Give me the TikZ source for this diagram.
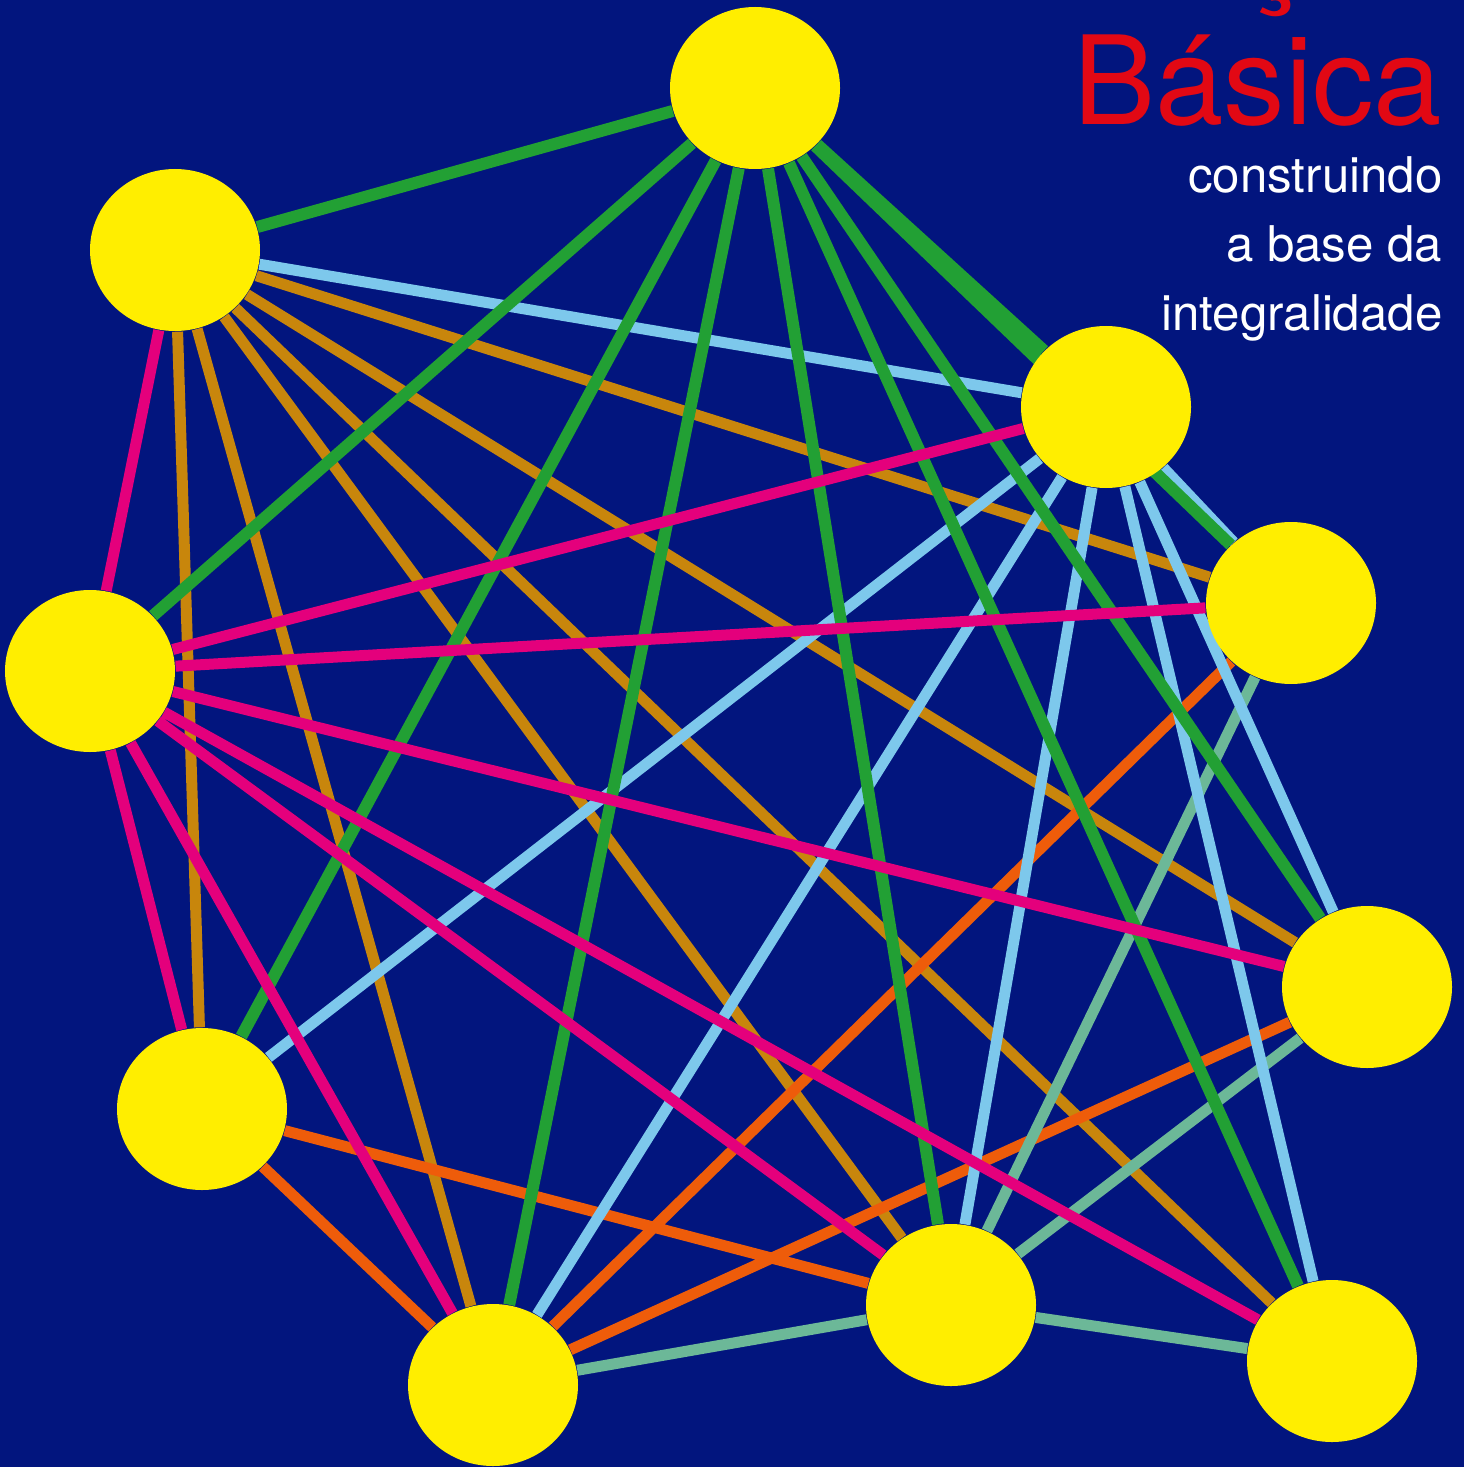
\documentclass[tikz,border=0pt]{standalone}
\usepackage{fontspec}
\setmainfont{TeX Gyre Heros}
\usepackage{xcolor}
\usepackage{tikz}
\usetikzlibrary{shapes.geometric}

\definecolor{navy}{RGB}{2,21,126}
\definecolor{sun}{RGB}{255,238,0}
\definecolor{leaf}{RGB}{34,160,52}
\definecolor{sky}{RGB}{125,200,236}
\definecolor{ochre}{RGB}{200,134,12}
\definecolor{rose}{RGB}{228,0,124}
\definecolor{flame}{RGB}{238,92,10}
\definecolor{sea}{RGB}{108,184,152}
\definecolor{signal}{RGB}{226,8,20}

\pgfdeclarelayer{back}
\pgfdeclarelayer{links}
\pgfsetlayers{back,links,main}

\begin{document}
\begin{tikzpicture}[
    hub/.style  = {ellipse, fill=sun, minimum width=1.70cm, minimum height=1.62cm, inner sep=0pt},
    link/.style = {line width=0.11cm},
    word/.style = {text=white, anchor=base east, inner sep=0pt, font=\fontsize{14}{16}\selectfont},
    big/.style  = {text=signal, anchor=base east, inner sep=0pt, font=\fontsize{35}{40}\selectfont}
]
    \useasboundingbox (0,0) rectangle (14.64,-14.67);
    \clip (0,0) rectangle (14.64,-14.67);
    \begin{pgfonlayer}{back}
        \fill[navy] (0,0) rectangle (14.64,-14.67);
    \end{pgfonlayer}

    \node[hub] (top)       at (7.55,-0.88)   {};
    \node[hub] (upleft)    at (1.75,-2.50)   {};
    \node[hub] (upright)   at (11.06,-4.07)  {};
    \node[hub] (right)     at (12.91,-6.03)  {};
    \node[hub] (left)      at (0.90,-6.71)   {};
    \node[hub] (lowright)  at (13.67,-9.87)  {};
    \node[hub] (lowleft)   at (2.02,-11.09)  {};
    \node[hub] (bottommid) at (9.51,-13.05)  {};
    \node[hub] (bottom)    at (4.93,-13.85)  {};
    \node[hub] (corner)    at (13.32,-13.61) {};

    \begin{pgfonlayer}{links}
        \draw[link, ochre] (upleft) -- (lowleft)  (upleft) -- (bottom)  (upleft) -- (bottommid)
            (upleft) -- (corner)  (upleft) -- (lowright)  (upleft) -- (right);
        \draw[link, flame] (lowleft) -- (bottom)  (lowleft) -- (bottommid)
            (right) -- (bottom)  (lowright) -- (bottom);
        \draw[link, sea] (bottom) -- (bottommid)  (bottommid) -- (corner)
            (bottommid) -- (right)  (bottommid) -- (lowright);
        \draw[link, sky] (upright) -- (upleft)  (upright) -- (lowleft)  (upright) -- (bottom)
            (upright) -- (bottommid)  (upright) -- (corner)  (upright) -- (lowright)  (upright) -- (right);
        \draw[link, leaf, line width=0.12cm] (top) -- (upleft)  (top) -- (left)  (top) -- (lowleft)
            (top) -- (bottom)  (top) -- (bottommid)  (top) -- (corner)  (top) -- (lowright)
            (top) -- (upright)  (top) -- (right);
        \draw[link, rose] (left) -- (upleft)  (left) -- (upright)  (left) -- (right)
            (left) -- (lowright)  (left) -- (corner)  (left) -- (bottommid)
            (left) -- (bottom)  (left) -- (lowleft);
    \end{pgfonlayer}

    % heading, right aligned
    \node[big] (head)  at (14.43,0.11)  {Atenção};
    \node[big] (title) at (14.43,-1.25) {Básica};
    \node[word] (sub1) at (14.43,-1.93) {construindo};
    \node[word] (sub2) at (14.43,-2.62) {a base da};
    \node[word] (sub3) at (14.43,-3.30) {integralidade};
\end{tikzpicture}
\end{document}
